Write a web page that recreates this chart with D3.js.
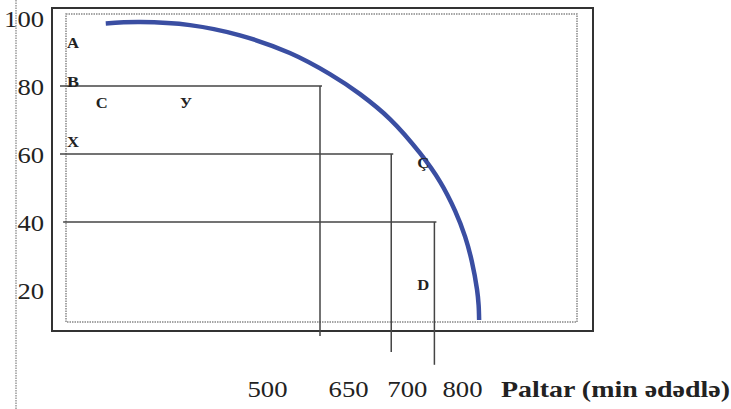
<!DOCTYPE html>
<html>
<head>
<meta charset="utf-8">
<script src="https://cdn.jsdelivr.net/npm/d3@7"></script>
<style>
	body { margin: 0; background: #fff; }
	svg { display: block; }
</style>
</head>
<body>
<div id="chart"></div>
<script>
// Production possibilities curve (Paltar on x, other good on y)
var yTicks = [100, 80, 60, 40, 20]
var xTickPos = [398, 554, 667, 773]
var xTickLabels = ["500", "650", "700", "800"]
var xTitle = "Paltar (min ədədlə)"

// curve
var curveX = [88, 154, 250, 346, 442, 519, 577, 635, 692, 731, 760, 779, 792, 802, 805, 806]
var curveY = [98.4, 98.8, 97.9, 94.9, 89.7, 83.5, 77.6, 70.2, 60.3, 51.8, 43.2, 35.7, 28.4, 20.1, 15.6, 11.2]

// guide lines from the y axis to the curve and down
var guideY = [80, 60, 40]
var guideX = [500, 637, 720]
var guideStart = [0, 0, 6]
var guideBottom = [6.5, 1.8, -2]

// point letters
var pointLabels = ["A", "B", "C", "У", "X", "Ç", "D"]
var pointX = [13.5, 13.5, 69, 231, 13.5, 687, 687]
var pointY = [92.6, 81.2, 75, 75, 63.5, 57.4, 21.5]

var w = 731
var h = 409
var serif = "'Liberation Serif', 'DejaVu Serif', serif"

var svg = d3.select("#chart")
	.append("svg")
	.attr("width", w)
	.attr("height", h)

var xScale = d3.scaleLinear()
	.domain([0, 1000])
	.range([60, 580])

var yScale = d3.scaleLinear()
	.domain([0, 100])
	.range([358, 18])

// dotted line on the far left
svg.append("line")
	.attr("x1", 16).attr("x2", 16)
	.attr("y1", 0).attr("y2", h)
	.attr("stroke", "#999")
	.attr("stroke-width", 1.5)
	.attr("stroke-dasharray", "1.5,1")

// outer frame
svg.append("rect")
	.attr("x", 52).attr("y", 8)
	.attr("width", 541).attr("height", 323)
	.attr("fill", "none")
	.attr("stroke", "#333")
	.attr("stroke-width", 2)

// inner dotted frame
svg.append("rect")
	.attr("x", 66).attr("y", 14)
	.attr("width", 511).attr("height", 308)
	.attr("fill", "none")
	.attr("stroke", "#888")
	.attr("stroke-width", 1.5)
	.attr("stroke-dasharray", "1.5,1")

var guides = guideY.map((v, i) => ({ y: v, x: guideX[i], x0: guideStart[i], bottom: guideBottom[i] }))

// horizontal guides
svg.selectAll(".hguide")
	.data(guides)
	.enter()
	.append("line").attr("class", "hguide")
	.attr("x1", d => xScale(d.x0))
	.attr("x2", d => xScale(d.x) + 2)
	.attr("y1", d => yScale(d.y))
	.attr("y2", d => yScale(d.y))
	.attr("stroke", "#444")
	.attr("stroke-width", 1.5)

// vertical guides
svg.selectAll(".vguide")
	.data(guides)
	.enter()
	.append("line").attr("class", "vguide")
	.attr("x1", d => xScale(d.x))
	.attr("x2", d => xScale(d.x))
	.attr("y1", d => yScale(d.y))
	.attr("y2", d => yScale(d.bottom))
	.attr("stroke", "#444")
	.attr("stroke-width", 1.5)

// the curve
var curveData = curveX.map((v, i) => ({ x: v, y: curveY[i] }))
var line = d3.line()
	.x(d => xScale(d.x))
	.y(d => yScale(d.y))
	.curve(d3.curveCatmullRom)

svg.append("path")
	.datum(curveData)
	.attr("d", line)
	.attr("fill", "none")
	.attr("stroke", "#3a4ea2")
	.attr("stroke-width", 4.5)

// point letters
svg.selectAll(".pt")
	.data(pointLabels)
	.enter()
	.append("text").attr("class", "pt")
	.attr("x", (d, i) => xScale(pointX[i]))
	.attr("y", (d, i) => yScale(pointY[i]))
	.attr("dy", "0.35em")
	.attr("font-family", serif)
	.attr("font-weight", "bold")
	.attr("font-size", 15)
	.attr("textLength", 12)
	.attr("lengthAdjust", "spacingAndGlyphs")
	.attr("fill", "#222")
	.text(d => d)

// y axis labels
var yAxis = d3.axisLeft(yScale).tickValues(yTicks).tickSize(0).tickPadding(0)
var yG = svg.append("g")
	.attr("transform", "translate(44, 0)")
	.call(yAxis)
yG.select(".domain").remove()
yG.selectAll("text")
	.attr("font-family", serif)
	.attr("font-size", 24)
	.attr("fill", "#222")
	.attr("dy", "0.34em")
	.attr("textLength", d => String(d).length * 13.3)
	.attr("lengthAdjust", "spacingAndGlyphs")

// x axis labels
var xAxis = d3.axisBottom(xScale).tickValues(xTickPos).tickFormat((d, i) => xTickLabels[i]).tickSize(0)
var xG = svg.append("g")
	.attr("transform", "translate(0, 397)")
	.call(xAxis)
xG.select(".domain").remove()
xG.selectAll("text")
	.attr("y", 0)
	.attr("dy", 0)
	.attr("font-family", serif)
	.attr("font-size", 24)
	.attr("fill", "#222")
	.attr("textLength", 40)
	.attr("lengthAdjust", "spacingAndGlyphs")

// x title
svg.append("text")
	.attr("x", xScale(848))
	.attr("y", 397)
	.attr("font-family", serif)
	.attr("font-weight", "bold")
	.attr("font-size", 24)
	.attr("fill", "#222")
	.attr("textLength", 229)
	.attr("lengthAdjust", "spacingAndGlyphs")
	.text(xTitle)
</script>
</body>
</html>
